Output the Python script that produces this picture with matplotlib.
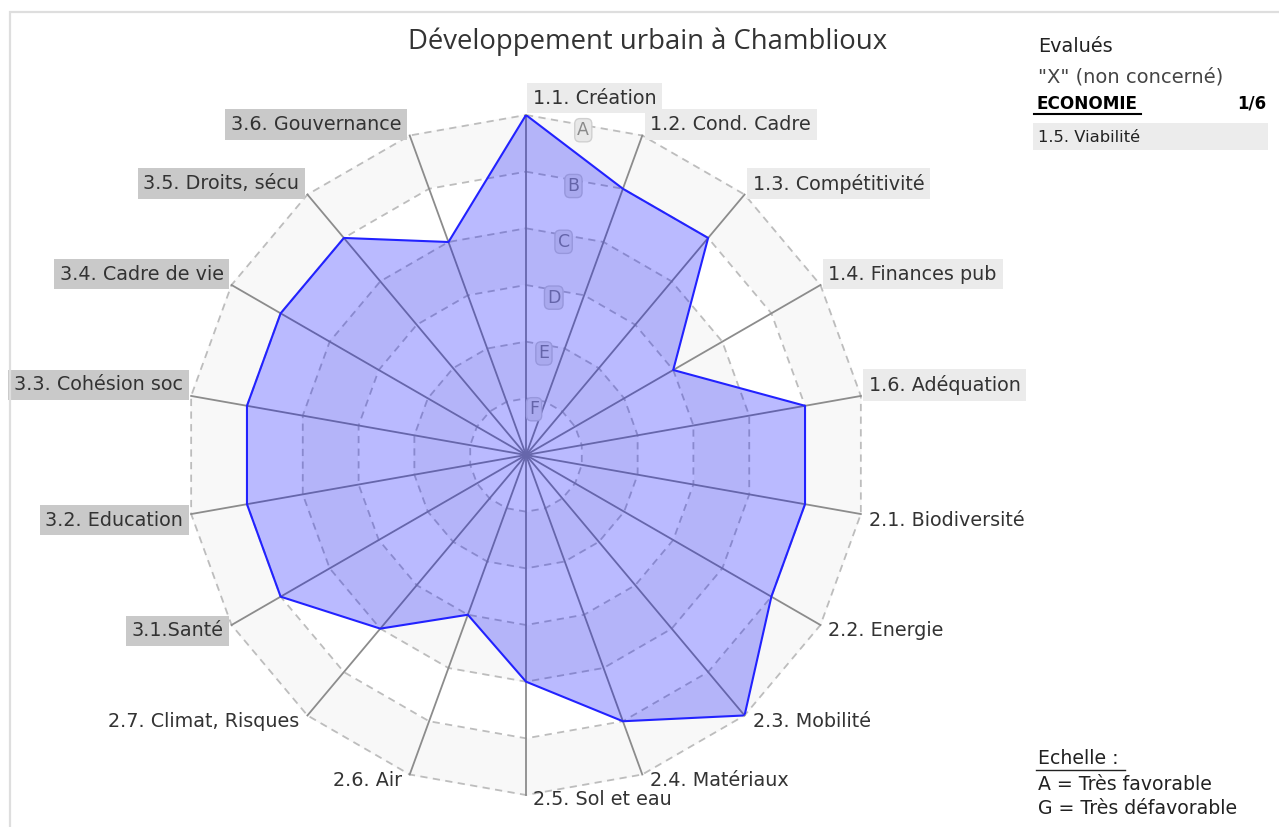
import numpy as np
import matplotlib
matplotlib.use('Agg')
import matplotlib.pyplot as plt
from matplotlib.patches import Rectangle
from matplotlib.lines import Line2D

categories = ['1.1. Création', '1.2. Cond. Cadre', '1.3. Compétitivité', '1.4. Finances pub',
              '1.6. Adéquation', '2.1. Biodiversité', '2.2. Energie', '2.3. Mobilité',
              '2.4. Matériaux', '2.5. Sol et eau', '2.6. Air', '2.7. Climat, Risques',
              '3.1.Santé', '3.2. Education', '3.3. Cohésion soc', '3.4. Cadre de vie',
              '3.5. Droits, sécu', '3.6. Gouvernance']
scores = ['A', 'B', 'B', 'D', 'B', 'B', 'B', 'A', 'B', 'C', 'D', 'C', 'B', 'B', 'B', 'B', 'B', 'C']
scale_letters = ['A', 'B', 'C', 'D', 'E', 'F', 'G']
group_colors = {'1': '#ebebeb', '2': None, '3': '#c9c9c9'}

title = 'Développement urbain à Chamblioux'
legend_top = ['Evalués', '"X" (non concerné)']
section_name = 'ECONOMIE'
section_count = '1/6'
excluded = ['1.5. Viabilité']
scale_title = 'Echelle :'
scale_text = ['A = Très favorable', 'G = Très défavorable']

W, H = 1279, 827


def fx(x):
    return x / W


def fy(y):
    return 1 - y / H


# A = 6 ... G = 0
levels = {l: 6 - i for i, l in enumerate(scale_letters)}
values = np.array([levels[s] for s in scores], dtype=float)
n = len(categories)
theta = np.arange(n) * 2 * np.pi / n
theta_c = np.append(theta, theta[0])

fig = plt.figure(figsize=(W / 100, H / 100), dpi=100)
fig.patch.set_facecolor('white')

# frame
fig.add_artist(Rectangle((fx(10), -0.2), fx(1400), fy(12) + 0.2, transform=fig.transFigure,
                         facecolor='none', edgecolor='#dedede', lw=1.6))

cx, cy, R = 526, 455, 340
ax = fig.add_axes([fx(cx - R), fy(cy + R), fx(2 * R), (2 * R) / H], projection='polar')
ax.set_theta_zero_location('N')
ax.set_theta_direction(-1)
ax.set_ylim(0, 6)
ax.set_xticks([])
ax.set_yticks([])
ax.grid(False)
ax.spines['polar'].set_visible(False)
ax.patch.set_alpha(0)

# alternating bands
for lev in range(6, 0, -1):
    col = '#f8f8f8' if lev % 2 == 0 else 'white'
    ax.fill(theta_c, np.full(n + 1, lev), color=col, zorder=0.2, clip_on=False)

# spokes
for t in theta:
    ax.plot([t, t], [0, 6], color='#8c8c8c', lw=1.3, zorder=0.6, clip_on=False)

# dashed rings
for lev in range(1, 7):
    ax.plot(theta_c, np.full(n + 1, lev), color='#bdbdbd', lw=1.3,
            ls=(0, (4, 3)), zorder=0.5, clip_on=False)

# scale letters
for letter in scale_letters[:-1]:
    ax.text(np.deg2rad(10), levels[letter] - 0.18, letter, ha='center', va='center',
            fontsize=12.5, color='#8a8a8a', zorder=0.8,
            bbox=dict(boxstyle='round,pad=0.15,rounding_size=0.3', fc='#e8e8e8',
                      ec='#d0d0d0', lw=1))

# data polygon
ax.fill(theta_c, np.append(values, values[0]), color=(0, 0, 1, 0.27), zorder=1, lw=0)
ax.plot(theta_c, np.append(values, values[0]), color='#2222ff', lw=1.5, zorder=1.2)

# category labels
for t, lab in zip(theta, categories):
    s, c = np.sin(t), np.cos(t)
    if abs(s) < 1e-6:
        ha, dx = 'left', 7
        dy = 17 if c > 0 else -5
    else:
        ha = 'left' if s > 0 else 'right'
        dx = 8 if s > 0 else -8
        dy = 11 if c > 0 else -6
    fc = group_colors[lab[0]]
    bb = dict(boxstyle='square,pad=0.3', fc=fc, ec='none') if fc else None
    ax.annotate(lab, (t, 6), xytext=(dx, dy), textcoords='offset pixels',
                ha=ha, va='center', fontsize=13.8, color='#333333',
                family='DejaVu Sans', bbox=bb, annotation_clip=False, zorder=3)

# title
fig.text(fx(648), fy(42), title, ha='center', va='center', fontsize=19.8,
         family='Open Sans', color='#333333')

# legend top right
fig.text(fx(1038), fy(46), legend_top[0], ha='left', va='center', fontsize=13.9,
         family='DejaVu Sans', color='#222222')
fig.text(fx(1038), fy(77), legend_top[1], ha='left', va='center', fontsize=14,
         family='DejaVu Sans', color='#444444')
fig.text(fx(1036), fy(104), section_name, ha='left', va='center', fontsize=12.2,
         fontweight='bold', family='DejaVu Sans', color='black')
fig.text(fx(1266), fy(104), section_count, ha='right', va='center', fontsize=12,
         fontweight='bold', family='DejaVu Sans', color='black')
fig.add_artist(Line2D([fx(1034), fx(1141)], [fy(114), fy(114)], color='black', lw=1.5))
fig.add_artist(Rectangle((fx(1033), fy(150)), fx(235), 27 / H, transform=fig.transFigure,
                         facecolor='#ececec', edgecolor='none'))
for i, e in enumerate(excluded):
    fig.text(fx(1038), fy(137 + 27 * i), e, ha='left', va='center', fontsize=11.8,
             family='DejaVu Sans', color='#222222')

# scale legend bottom right
fig.text(fx(1038), fy(759), scale_title, ha='left', va='center', fontsize=13.6,
         family='DejaVu Sans', color='#222222')
fig.add_artist(Line2D([fx(1036), fx(1125)], [fy(770), fy(770)], color='#222222', lw=1))
for i, s in enumerate(scale_text):
    fig.text(fx(1038), fy(784 + 24 * i), s, ha='left', va='center', fontsize=13.6,
             family='DejaVu Sans', color='#222222')

fig.savefig('out.png', dpi=100)
